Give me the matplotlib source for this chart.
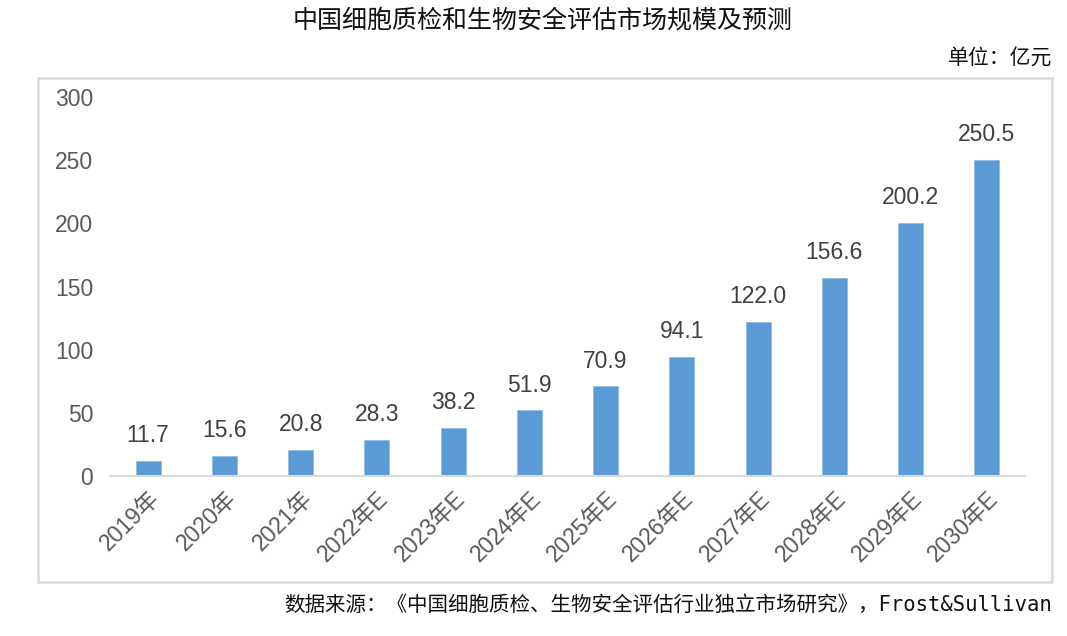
import matplotlib
matplotlib.use("Agg")
import matplotlib.pyplot as plt
from matplotlib.patches import Rectangle

# data
years = ["2019年", "2020年", "2021年", "2022年E", "2023年E", "2024年E",
         "2025年E", "2026年E", "2027年E", "2028年E", "2029年E", "2030年E"]
market_size = [11.7, 15.6, 20.8, 28.3, 38.2, 51.9, 70.9, 94.1, 122.0, 156.6, 200.2, 250.5]
y_ticks = [0, 50, 100, 150, 200, 250, 300]

title = "中国细胞质检和生物安全评估市场规模及预测"
unit = "单位：亿元"
source = "数据来源：《中国细胞质检、生物安全评估行业独立市场研究》，Frost&Sullivan"

plt.rcParams['font.family'] = ['Liberation Sans', 'Noto Sans CJK SC', 'DejaVu Sans']

W, H = 1067, 636
fig = plt.figure(figsize=(W / 100, H / 100), dpi=100)

# outer gray frame
fig.patches.append(Rectangle((38 / W, 1 - 582 / H), (1052 - 38) / W, (582 - 78) / H,
                             transform=fig.transFigure, fill=False,
                             edgecolor="#d9d9d9", linewidth=1.8))

ax = fig.add_axes([110 / W, 1 - 476 / H, (1025 - 110) / W, (476 - 97) / H])

x = list(range(len(years)))
ax.bar(x, market_size, width=0.33, color="#5b9bd5", edgecolor="#8fbbe3", linewidth=0.6)

for xi, v in zip(x, market_size):
    ax.annotate(f"{v:.1f}", (xi, v), xytext=(0, 10), textcoords="offset points",
                ha="center", va="bottom", fontsize=16.5, color="#404040")

ax.set_xlim(-0.5, len(years) - 0.5)
ax.set_ylim(0, 300)
ax.set_yticks(y_ticks)
ax.set_yticklabels([str(t) for t in y_ticks], fontsize=16.5, color="#595959")
ax.set_xticks(x)
ax.set_xticklabels(years, rotation=45, ha="right", va="top", rotation_mode="anchor",
                   fontsize=16.5, color="#595959")
ax.tick_params(axis="y", length=0, pad=12)
ax.tick_params(axis="x", length=0, pad=8)

for s in ["top", "right", "left"]:
    ax.spines[s].set_visible(False)
ax.spines["bottom"].set_color("#d9d9d9")
ax.spines["bottom"].set_linewidth(1.5)

fig.text(543 / W, 1 - 20 / H, title, ha="center", va="center", fontsize=18,
         family=['Noto Sans CJK SC'], color="#111111")
fig.text(1052 / W, 1 - 58 / H, unit, ha="right", va="center", fontsize=15,
         family=['Noto Sans CJK SC'], color="#111111")
fig.text(1052 / W, 1 - 605 / H, source, ha="right", va="center", fontsize=14.8,
         family=['DejaVu Sans Mono', 'Noto Sans CJK SC'], color="#111111")

fig.savefig("out.png", dpi=100)
